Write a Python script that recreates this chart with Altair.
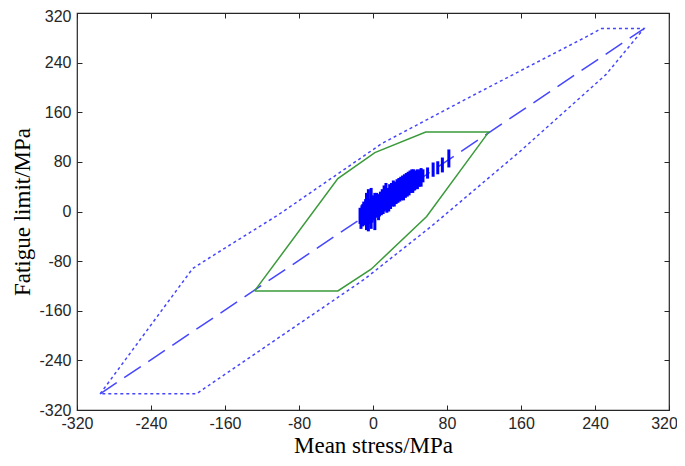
import altair as alt
import pandas as pd

# Outer (dotted) envelope
outer_x = [-295, -195, -174, -102, 10, 113, 231, 247, 293, 252, 159, 63, -10, -191, -295]
outer_y = [-294, -92, -72, -5, 110, 191, 282, 295, 295, 221, 97, -24, -110, -294, -294]

# Inner (green) envelope
green_x = [-128, -38, 2, 57, 125, 58, -2, -38, -128]
green_y = [-128, 53, 95, 128, 128, -8, -93, -128, -128]

# Diagonal (long dashed)
diag_x = [-295, 293]
diag_y = [-294, 295]

# Test points shown as vertical bars
bar_x = [-14, -13, -12, -11, -10, -9, -8, -7, -6, -5, -4, -3, -2, -1, 0, 1, 2, 3, 4, 5,
         6, 7, 8, 9, 10, 11, 12, 13, 14, 15, 16, 17, 18, 19, 20, 21, 22, 23, 24, 25,
         26, 27, 28, 29, 30, 31, 32, 33, 34, 35, 36, 37, 38, 39, 40, 41, 42, 43, 44, 45,
         46, 47, 48, 49, 50, 51, 52, 54, 59, 65, 70, 75, 82]
bar_lo = [-20, -28, -16, -24, -14, -22, -20, -30, -12, -32, -10, -20, -28, -18, -6, -14, -30, -10, -4, -8,
          -14, -8, 2, -6, 2, -4, 0, 2, 6, -2, 8, 0, 12, 4, 10, 8, 12, 8, 14, 12,
          18, 14, 18, 16, 20, 18, 24, 18, 26, 22, 28, 24, 28, 26, 30, 30, 32, 30, 34, 34,
          36, 38, 36, 40, 40, 42, 40, 47, 53, 56, 60, 63, 71]
bar_hi = [6, 2, 10, 12, 16, 8, 20, 30, 18, 36, 20, 14, 38, 18, 26, 20, 30, 22, 30, 20,
          28, 24, 32, 26, 36, 24, 42, 28, 46, 30, 38, 36, 44, 34, 46, 36, 50, 38, 48, 40,
          52, 44, 54, 44, 56, 48, 58, 50, 60, 52, 62, 56, 64, 56, 66, 58, 68, 60, 68, 62,
          66, 64, 68, 66, 64, 68, 70, 68, 71, 79, 81, 87, 100]

tick_values = [-320, -240, -160, -80, 0, 80, 160, 240, 320]


def poly(xs, ys):
    return pd.DataFrame({"x": xs, "y": ys, "o": list(range(len(xs)))})


outer_df = poly(outer_x, outer_y)
green_df = poly(green_x, green_y)
diag_df = poly(diag_x, diag_y)
bars_df = pd.DataFrame({"x": bar_x, "lo": bar_lo, "hi": bar_hi})

sx = alt.Scale(domain=[-320, 320], nice=False, zero=False)
sy = alt.Scale(domain=[-320, 320], nice=False, zero=False)

ink = "#262626"
common = dict(values=tick_values, grid=False, domain=False, offset=-5, tickSize=5,
              tickColor=ink, tickWidth=1)

ax_bottom = alt.Axis(orient="bottom", title="Mean stress/MPa", labelPadding=5,
                     labelFlush=False, labelOverlap=False, labelExpr="'' + datum.value",
                     labelFont="Liberation Sans", labelFontSize=16, labelColor=ink,
                     labelOffset={"condition": {"test": "datum.value == 320", "value": -5}, "value": 0},
                     titleFont="Liberation Serif", titleFontSize=23, titleFontWeight="normal",
                     titleColor="black", titlePadding=3, **common)
ax_left = alt.Axis(orient="left", title="Fatigue limit/MPa", labelPadding=6,
                   labelFlush=False, labelOverlap=False, labelExpr="'' + datum.value",
                   labelFont="Liberation Sans", labelFontSize=16, labelColor=ink,
                   labelOffset={"condition": {"test": "datum.value == 320", "value": 3}, "value": 0},
                   titleFont="Liberation Serif", titleFontSize=23, titleFontWeight="normal",
                   titleColor="black", titlePadding=4, **common)
ax_top = alt.Axis(orient="top", title="", labels=False, **common)
ax_right = alt.Axis(orient="right", title="", labels=False, **common)

blue = "#4646ff"

outer = alt.Chart(outer_df).mark_line(color=blue, strokeDash=[3, 3], strokeWidth=1.5).encode(
    x=alt.X("x:Q", scale=sx, axis=ax_bottom),
    y=alt.Y("y:Q", scale=sy, axis=ax_left),
    order=alt.Order("o:Q"),
)

diag = alt.Chart(diag_df).mark_line(color=blue, strokeDash=[20, 9], strokeWidth=1.5).encode(
    x=alt.X("x:Q", scale=sx, axis=ax_top),
    y=alt.Y("y:Q", scale=sy, axis=ax_right),
    order=alt.Order("o:Q"),
)

green = alt.Chart(green_df).mark_line(color="#3a9a3a", strokeWidth=1.5).encode(
    x=alt.X("x:Q", scale=sx, axis=None),
    y=alt.Y("y:Q", scale=sy, axis=None),
    order=alt.Order("o:Q"),
)

bars = alt.Chart(bars_df).mark_rule(color="#0000ff", strokeWidth=3).encode(
    x=alt.X("x:Q", scale=sx, axis=None),
    y=alt.Y("lo:Q", scale=sy, axis=None),
    y2="hi:Q",
)

chart = alt.layer(outer, diag, green, bars).resolve_axis(
    x="independent", y="independent"
).properties(
    width=592, height=397,
    autosize=alt.AutoSizeParams(type="none"),
    padding={"left": 69, "top": 5, "right": 8, "bottom": 48},
    background="white",
).configure_view(stroke=ink, strokeWidth=1.2)

chart.save("out.html", embed_options={"renderer": "svg", "actions": False})
